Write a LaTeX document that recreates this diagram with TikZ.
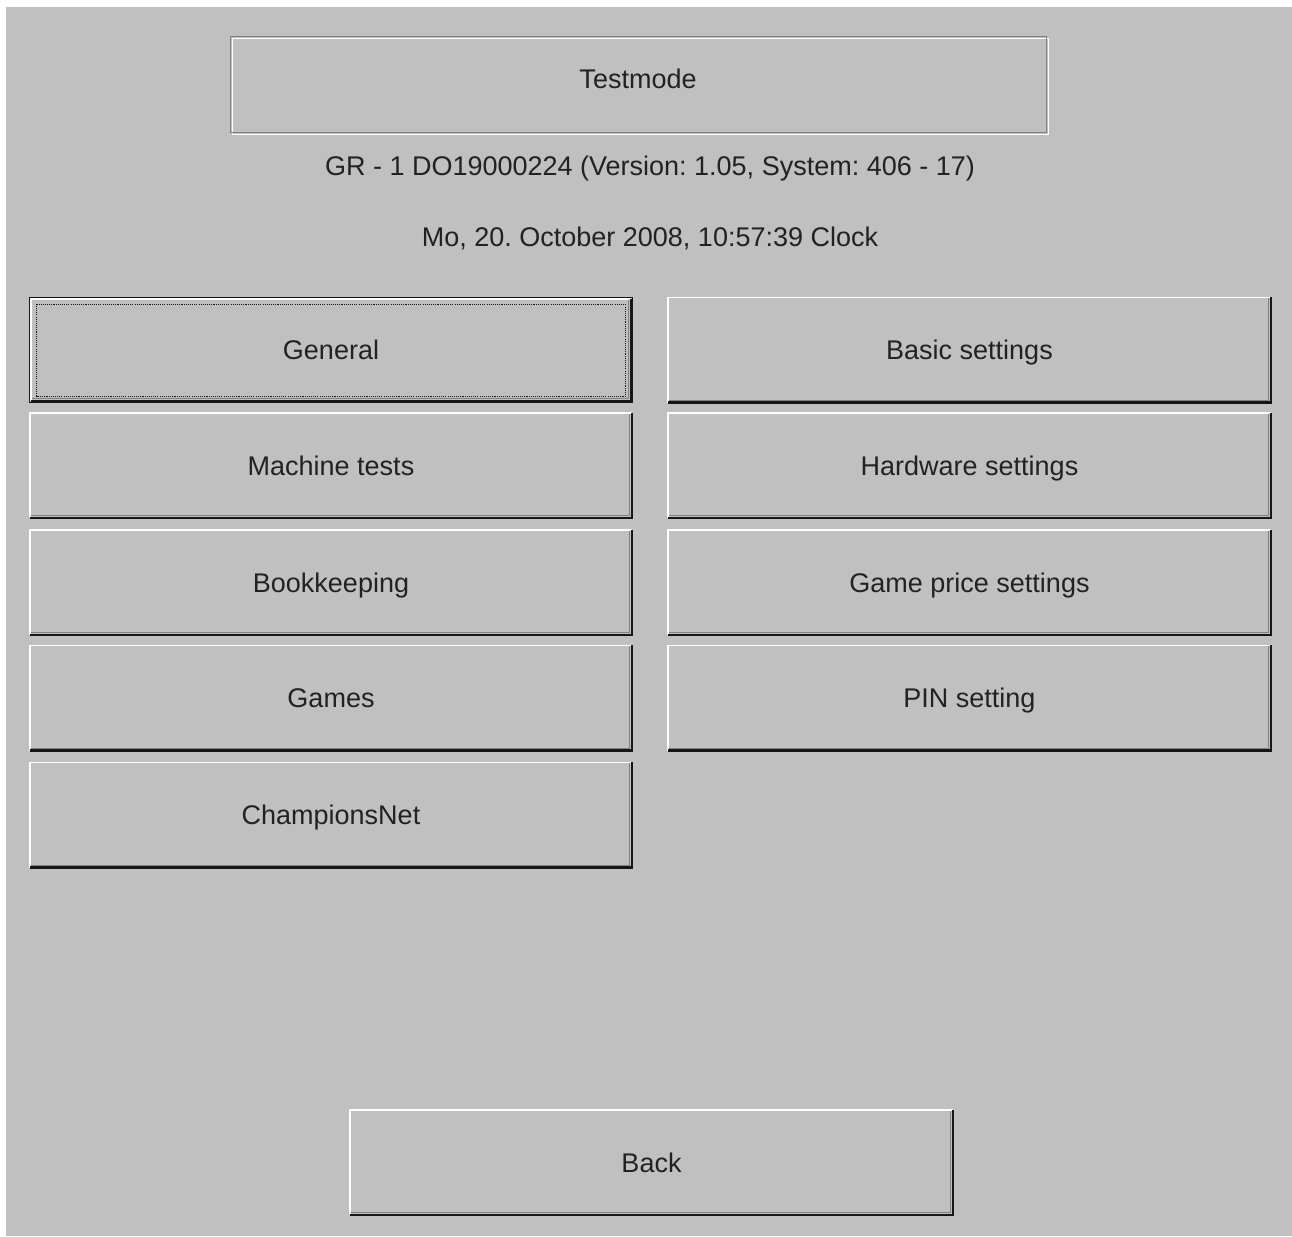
\documentclass[tikz,border=0pt]{standalone}
\usepackage{fontspec}
\setmainfont{Liberation Sans}
\definecolor{panelgrey}{RGB}{192,192,192}
\definecolor{shadowgrey}{RGB}{128,128,128}
\definecolor{edgeblack}{RGB}{22,22,22}
\definecolor{labelblack}{RGB}{34,34,34}
\frenchspacing

\begin{document}
\begin{tikzpicture}[x=0.75pt,y=0.75pt,yscale=-1,xscale=1,
    button/.style={fill=panelgrey, minimum width=451.5pt, minimum height=78.4pt, inner sep=0pt, text height=14.5pt, text depth=0pt, font=\fontsize{20.25}{24}\selectfont, text=labelblack},
    caption/.style={inner sep=0pt, text height=14.5pt, text depth=0pt, font=\fontsize{20.25}{24}\selectfont, text=labelblack}]
\useasboundingbox (0,0) rectangle (1292,1236);

%Shape: Background
    \fill [white] (0,0) rectangle (1292,1236);
    \fill [panelgrey] (6,7) rectangle (1292,1236);

%Shape: Title frame
    \node [minimum width=611.25pt, minimum height=72pt, inner sep=0pt] (titlebox) at (638.5,84.5) {};
    \draw [white, line width=0.9pt] ([shift={(2,2)}]titlebox.north west) rectangle ([shift={(2,2)}]titlebox.south east);
    \draw [shadowgrey, line width=0.9pt] (titlebox.north west) rectangle (titlebox.south east);

% Text Node
    \node [caption] (titlelabel) at (638,79) {Testmode};
% Text Node
    \node [caption] (serial) at (650,166) {GR - 1 DO19000224 (Version: 1.05, System: 406 - 17)};
% Text Node
    \node [caption] (clock) at (650,237) {Mo, 20. October 2008, 10:57:39 Clock};

%Shape: Buttons
    \node [button] (general) at (331,350) {General};
    \node [button] (machinetests) at (331,465.5) {Machine tests};
    \node [button] (bookkeeping) at (331,582.5) {Bookkeeping};
    \node [button] (games) at (331,698) {Games};
    \node [button] (championsnet) at (331,815) {ChampionsNet};
    \node [button] (basicsettings) at (969.5,350) {Basic settings};
    \node [button] (hardwaresettings) at (969.5,465.5) {Hardware settings};
    \node [button] (gameprice) at (969.5,582.5) {Game price settings};
    \node [button] (pinsetting) at (969.5,698) {PIN setting};
    \node [button] (back) at (651.5,1162.5) {Back};

%Bevels
\foreach \b in {machinetests,bookkeeping,games,championsnet,basicsettings,hardwaresettings,gameprice,pinsetting,back}{
    \draw [white, line width=1.2pt] (\b.south west) -- (\b.north west) -- (\b.north east);
    \draw [shadowgrey, line width=0.75pt] ([shift={(1,-2.5)}]\b.south west) -- ([shift={(-2.5,-2.5)}]\b.south east) -- ([shift={(-2.5,1)}]\b.north east);
    \draw [edgeblack, line width=1.6pt] (\b.south west) -- (\b.south east) -- (\b.north east);
}

%Focused button
    \draw [edgeblack, line width=0.9pt] (general.south west) rectangle (general.north east);
    \draw [white, line width=1.2pt] ([shift={(1.5,-1.5)}]general.south west) -- ([shift={(1.5,1.5)}]general.north west) -- ([shift={(-1.5,1.5)}]general.north east);
    \draw [shadowgrey, line width=0.75pt] ([shift={(2.5,-4)}]general.south west) -- ([shift={(-4,-4)}]general.south east) -- ([shift={(-4,2.5)}]general.north east);
    \draw [edgeblack, line width=1.6pt] ([shift={(1.5,-1.5)}]general.south west) -- ([shift={(-1.5,-1.5)}]general.south east) -- ([shift={(-1.5,1.5)}]general.north east);
    \draw [edgeblack, line width=0.75pt, dash pattern=on 0.8pt off 0.8pt] ([shift={(7,-6)}]general.south west) rectangle ([shift={(-7,7)}]general.north east);

\end{tikzpicture}
\end{document}
